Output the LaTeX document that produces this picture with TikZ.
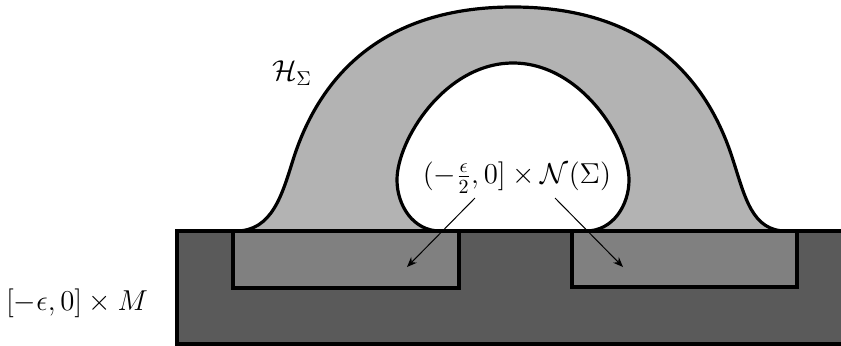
\documentclass[tikz,border=0pt]{standalone}
\usetikzlibrary{arrows.meta}
\definecolor{basegray}{RGB}{90,90,90}
\definecolor{collargray}{RGB}{128,128,128}
\definecolor{handlegray}{RGB}{179,179,179}
\begin{document}
\begin{tikzpicture}[x=0.5pt,y=-0.5pt,
  curveline/.style={draw=black,line width=1.6pt,line join=round,line cap=round},
  collar/.style={fill=collargray,draw=black,line width=1.6pt},
  basebox/.style={fill=basegray,draw=black,line width=1.6pt},
  pointer/.style={-{Stealth[length=5pt,width=4pt]},line width=0.5pt},
  lbl/.style={font=\fontsize{14.4}{17}\selectfont,inner sep=0pt}]
\clip (0,0) rectangle (841,345);
\def\outerpath{(236,231) .. controls (272,231) and (282,195) .. (293,160)
  .. controls (315,90) and (370,7) .. (513,7)
  .. controls (656,7) and (711,90) .. (733,160)
  .. controls (745,197) and (752,231) .. (786,231)}
\def\innerpath{(440,231) .. controls (413,231) and (397,205) .. (397,180)
  .. controls (397,140) and (445,63) .. (513,63)
  .. controls (581,63) and (629,140) .. (629,180)
  .. controls (629,205) and (613,231) .. (586,231)}
% handle fill
\fill[handlegray,even odd rule] \outerpath -- cycle \innerpath -- cycle;
% base and collars
\draw[basebox] (177,231) rectangle (860,344);
\draw[collar] (233,231) rectangle (459,288);
\draw[collar] (572,231) rectangle (797,287);
% handle outlines
\draw[curveline] \outerpath;
\draw[curveline] \innerpath;
% labels
\node[lbl] (hsig) at (292,73) {$\mathcal{H}_\Sigma$};
\node[lbl] (nsig) at (517,178) {$(-\frac{\epsilon}{2},0]\times\mathcal{N}(\Sigma)$};
\node[lbl] (mlab) at (77,303) {$[-\epsilon,0]\times M$};
% arrows
\coordinate (a1s) at (475,198);
\coordinate (a1e) at (407,267);
\coordinate (a2s) at (555,198);
\coordinate (a2e) at (623,267);
\draw[pointer] (a1s) -- (a1e);
\draw[pointer] (a2s) -- (a2e);
\end{tikzpicture}
\end{document}
